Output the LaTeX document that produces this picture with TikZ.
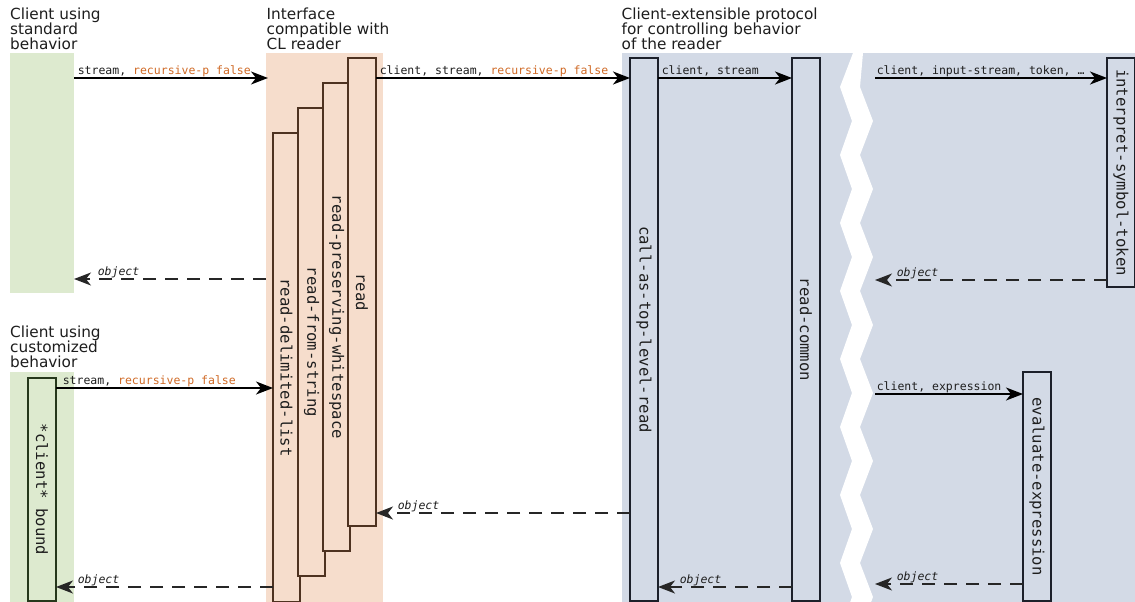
\documentclass[tikz,border=0pt]{standalone}
\usepackage{fontspec}
\setmainfont{DejaVu Sans}
\newfontfamily\monof{DejaVu Sans Mono}
\usetikzlibrary{arrows.meta}
\definecolor{greenfill}{RGB}{221,234,207}
\definecolor{greenline}{RGB}{38,56,28}
\definecolor{orangefill}{RGB}{246,221,204}
\definecolor{orangeline}{RGB}{78,50,32}
\definecolor{bluefill}{RGB}{211,218,230}
\definecolor{blueline}{RGB}{28,32,42}
\definecolor{argorange}{RGB}{208,106,38}
\definecolor{inktext}{RGB}{30,30,30}
\newcommand\ttlfont{\fontsize{15.3}{15.3}\selectfont}
\newcommand\lblfont{\monof\fontsize{11.5}{12}\selectfont}
\newcommand\bxfont{\monof\fontsize{15.6}{16}\selectfont}
\begin{document}
\begin{tikzpicture}[x=1pt,y=-1pt,
  region/.style={draw=none,inner sep=0,outer sep=0,anchor=north west},
  fnbox/.style={line width=1.4pt,inner sep=0,outer sep=0,anchor=north west},
  fnlabel/.style={rotate=-90,font=\bxfont,text=inktext,inner sep=0},
  ttl/.style={font=\ttlfont,text=inktext,anchor=base west,inner sep=0},
  argl/.style={font=\lblfont,text=inktext,anchor=base west,inner sep=0,pos=0,xshift=3pt,yshift=3.5pt},
  retl/.style={font=\lblfont\itshape,text=inktext,anchor=base west,inner sep=0,pos=1,xshift=21pt,yshift=3.5pt},
  call/.style={-{Stealth[length=17pt,width=13pt,inset=5pt]},line width=1.5pt,draw=black},
  ret/.style={-{Stealth[length=17pt,width=13pt,inset=5pt]},line width=1.5pt,draw=black!85,dash pattern=on 13pt off 9pt}]
\useasboundingbox[fill=white] (0,0) rectangle (1135,602);

% regions
\node[region,fill=greenfill,minimum width=64,minimum height=240] (stdclient) at (10,53) {};
\node[region,fill=greenfill,minimum width=64,minimum height=231] (custclient) at (10,372) {};
\node[region,fill=orangefill,minimum width=117,minimum height=550] (iface) at (266,53) {};
\node[region,fill=bluefill,minimum width=513,minimum height=550] (proto) at (622,53) {};
\fill[white] (853,53) -- (840,87) -- (852,121) -- (840,155) -- (852,189) -- (840,223)
  -- (852,257) -- (840,291) -- (852,325) -- (840,359) -- (852,393) -- (840,427)
  -- (852,461) -- (840,495) -- (852,529) -- (840,563) -- (852,597) -- (840,631)
  -- (860,631) -- (873,597) -- (860,563) -- (873,529) -- (860,495) -- (873,461)
  -- (860,427) -- (873,393) -- (860,359) -- (873,325) -- (860,291) -- (873,257)
  -- (860,223) -- (873,189) -- (860,155) -- (873,121) -- (860,87) -- (863,53) -- cycle;

% titles
\node[ttl] (t1a) at (10,19.5) {Client using};
\node[ttl] (t1b) at (10,34.5) {standard};
\node[ttl] (t1c) at (10,49.5) {behavior};
\node[ttl] (t2a) at (266.5,19.5) {Interface};
\node[ttl] (t2b) at (266.5,34.5) {compatible with};
\node[ttl] (t2c) at (266.5,49.5) {CL reader};
\node[ttl] (t3a) at (621.5,19.5) {Client-extensible protocol};
\node[ttl] (t3b) at (621.5,34.5) {for controlling behavior};
\node[ttl] (t3c) at (621.5,49.5) {of the reader};
\node[ttl] (t4a) at (10,337.5) {Client using};
\node[ttl] (t4b) at (10,352.5) {customized};
\node[ttl] (t4c) at (10,367.5) {behavior};

% function boxes
\node[fnbox,draw=greenline,fill=greenfill,minimum width=28,minimum height=223] (bound) at (28,378) {};
\node[fnlabel] (boundl) at (bound.center) {*client* bound};

\node[fnbox,draw=orangeline,fill=orangefill,minimum width=27,minimum height=469] (rdl) at (273,133) {};
\node[fnlabel] (rdll) at (rdl.center) {read-delimited-list};
\node[fnbox,draw=orangeline,fill=orangefill,minimum width=27,minimum height=468] (rfs) at (298,108) {};
\node[fnlabel] (rfsl) at (rfs.center) {read-from-string};
\node[fnbox,draw=orangeline,fill=orangefill,minimum width=27,minimum height=468] (rpw) at (323,83) {};
\node[fnlabel] (rpwl) at (rpw.center) {read-preserving-whitespace};
\node[fnbox,draw=orangeline,fill=orangefill,minimum width=28,minimum height=468] (rd) at (348,58) {};
\node[fnlabel] (rdl2) at (rd.center) {read};

\node[fnbox,draw=blueline,fill=bluefill,minimum width=28,minimum height=543] (callas) at (630,58) {};
\node[fnlabel] (callasl) at (callas.center) {call-as-top-level-read};
\node[fnbox,draw=blueline,fill=bluefill,minimum width=28,minimum height=543] (rcommon) at (792,58) {};
\node[fnlabel] (rcommonl) at (rcommon.center) {read-common};
\node[fnbox,draw=blueline,fill=bluefill,minimum width=28,minimum height=229] (interp) at (1107,58) {};
\node[fnlabel] (interpl) at (interp.center) {interpret-symbol-token};
\node[fnbox,draw=blueline,fill=bluefill,minimum width=28,minimum height=229] (evalx) at (1023,372) {};
\node[fnlabel] (evalxl) at (evalx.center) {evaluate-expression};

% levels
\coordinate (y78) at (0,78);
\coordinate (y279) at (0,279);
\coordinate (y280) at (0,280);
\coordinate (y388) at (0,388);
\coordinate (y394) at (0,394);
\coordinate (y513) at (0,513);
\coordinate (y584) at (0,584);
\coordinate (y587) at (0,587);
\coordinate (gapedge) at (875,0);

% calls
\draw[call] (stdclient.east |- y78) -- node[argl] {stream, \textcolor{argorange}{recursive-p false}} ([xshift=2pt]iface.west |- y78);
\draw[call] (rd.east |- y78) -- node[argl] {client, stream, \textcolor{argorange}{recursive-p false}} (callas.west |- y78);
\draw[call] (callas.east |- y78) -- node[argl] {client, stream} (rcommon.west |- y78);
\draw[call] (gapedge |- y78) -- node[argl,xshift=-2pt] {client, input-stream, token, …} (interp.west |- y78);
\draw[call] (bound.east |- y388) -- node[argl,xshift=3pt] {stream, \textcolor{argorange}{recursive-p false}} (rdl.west |- y388);
\draw[call] (gapedge |- y394) -- node[argl,xshift=-2pt] {client, expression} (evalx.west |- y394);

% returns
\draw[ret] (iface.west |- y279) -- node[retl,xshift=2pt] {object} (stdclient.east |- y279);
\draw[ret] (interp.west |- y280) -- node[retl] {object} (gapedge |- y280);
\draw[ret] (callas.west |- y513) -- node[retl] {object} (rd.east |- y513);
\draw[ret] (rdl.west |- y587) -- node[retl] {object} (bound.east |- y587);
\draw[ret] (rcommon.west |- y587) -- node[retl] {object} (callas.east |- y587);
\draw[ret] (evalx.west |- y584) -- node[retl] {object} (gapedge |- y584);
\end{tikzpicture}
\end{document}
